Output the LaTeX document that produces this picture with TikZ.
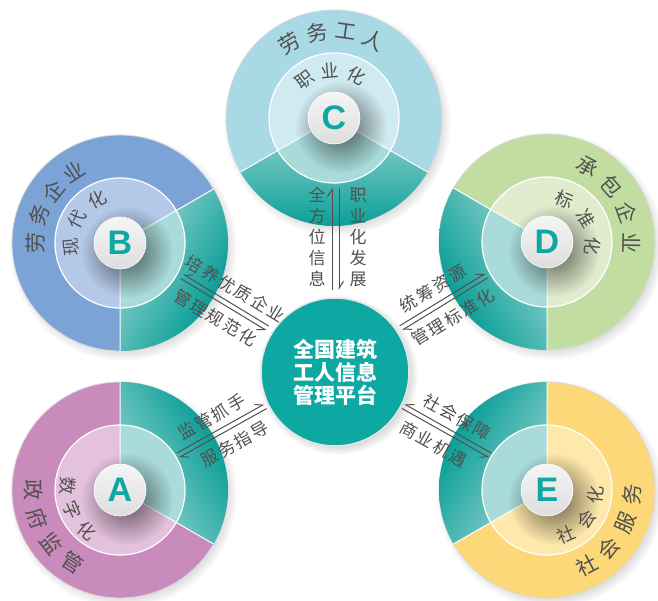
\documentclass[tikz,border=0pt]{standalone}
\usepackage{fontspec}
\setmainfont{Liberation Sans}
\newfontfamily\cjk{Noto Sans CJK SC}
\newfontfamily\cjkls[LetterSpace=12]{Noto Sans CJK SC}
\usetikzlibrary{arrows.meta,calc,fadings}
\definecolor{tealP}{HTML}{0DA8A2}
\definecolor{tealDk}{HTML}{0B9F98}
\definecolor{tealLt}{HTML}{9BD5D2}
\definecolor{tealIn}{HTML}{A8DBD9}
\definecolor{cOut}{HTML}{A9D9E5}
\definecolor{cIn}{HTML}{CFEAF0}
\definecolor{bOut}{HTML}{7CA3D5}
\definecolor{bIn}{HTML}{B4C9E8}
\definecolor{dOut}{HTML}{C2DDA2}
\definecolor{dIn}{HTML}{E0ECCD}
\definecolor{aOut}{HTML}{C98ABC}
\definecolor{aIn}{HTML}{E4C1DC}
\definecolor{eOut}{HTML}{FDD879}
\definecolor{eIn}{HTML}{FEE8AC}
\definecolor{txtGray}{HTML}{505050}
\tikzfading[name=softshade, inner color=transparent!0, outer color=transparent!100]

\begin{document}
\begin{tikzpicture}[x=1pt, y=1pt,
  ringtxt/.style={font=\cjk\fontsize{21}{21}\selectfont, text=txtGray, inner sep=0pt},
  innertxt/.style={font=\cjk\fontsize{18}{18}\selectfont, text=txtGray, inner sep=0pt},
  linktxt/.style={font=\cjkls\fontsize{17}{17}\selectfont, text=txtGray, inner sep=0pt},
  stacktxt/.style={font=\cjk\fontsize{17}{21}\selectfont, text=txtGray, inner sep=0pt, align=center},
  badge/.style={circle, minimum size=52pt, inner sep=0pt, top color=black!4, bottom color=black!13, draw=white, line width=0.6pt, text=tealP, font=\bfseries\fontsize{34}{34}\selectfont},
  platform/.style={circle, minimum size=148pt, inner sep=0pt, fill=tealP, draw=black!10, line width=1.5pt, align=center, text=white, font=\cjk\bfseries\fontsize{21}{23}\selectfont},
  link/.style={draw=txtGray, line width=1pt},
  barbL/.tip={Straight Barb[left, length=7pt, width=9pt]},
  barbR/.tip={Straight Barb[right, length=7pt, width=9pt]}]
\useasboundingbox (0,0) rectangle (658,600);

% five rings, teal sector facing the platform
\foreach \nm/\px/\py/\co/\ci/\s in {C/334/482/cOut/cIn/210, B/120/357/bOut/bIn/-90, D/547/358/dOut/dIn/150, A/120/110/aOut/aIn/-30, E/547/110/eOut/eIn/90}{
  \pgfmathsetmacro\sa{\s+150}
  \pgfmathsetmacro\se{\s+120}
  \coordinate (\nm) at (\px,\py);
  \fill[black, opacity=0.2, path fading=circle with fuzzy edge 15 percent] ($(\nm)+(3,-4)$) circle (114);
  \filldraw[fill=\co, draw=black!15, line width=0.8pt] (\nm) circle (108);
  \begin{scope}
    \clip (\nm) -- ++(\s:108) arc[start angle=\s, end angle=\se, radius=108] -- cycle;
    \shade[left color=tealDk, right color=tealDk, middle color=tealLt, shading angle=\sa] ($(\nm)+(-108,-108)$) rectangle ++(216,216);
  \end{scope}
  \fill[\ci] (\nm) circle (65);
  \fill[tealIn] (\nm) -- ++(\s:65) arc[start angle=\s, end angle=\se, radius=65] -- cycle;
  \draw[white, line width=1.2pt] (\nm) circle (65);
  \draw[white, line width=1pt] ($(\nm)+(\s:26)$) -- ++(\s:82) ($(\nm)+(\se:26)$) -- ++(\se:82);
  \fill[black, opacity=0.6, path fading=softshade] ($(\nm)+(7,-9)$) circle (46);
  \node[badge] (\nm b) at (\nm) {\nm};
}

% ring texts
\foreach \ch/\a [count=\i] in {劳/121,务/101,工/82,人/63}
  \node[ringtxt, rotate=\a-90] (Co\i) at ([shift={(\a:87)}]C) {\ch};
\foreach \ch/\a [count=\i] in {职/127,业/95,化/62}
  \node[innertxt, rotate=\a-90] (Ci\i) at ([shift={(\a:48)}]C) {\ch};
\foreach \ch/\a [count=\i] in {劳/180,务/161,企/142,业/123}
  \node[ringtxt, rotate=\a-90] (Bo\i) at ([shift={(\a:85)}]B) {\ch};
\foreach \ch/\a [count=\i] in {现/185,代/151,化/117}
  \node[innertxt, rotate=\a-90] (Bi\i) at ([shift={(\a:49)}]B) {\ch};
\foreach \ch/\a [count=\i] in {承/62,包/41,企/20,业/-1}
  \node[ringtxt, rotate=\a-90] (Do\i) at ([shift={(\a:85)}]D) {\ch};
\foreach \ch/\a [count=\i] in {标/68,准/31,化/-5}
  \node[innertxt, rotate=\a-90] (Di\i) at ([shift={(\a:46)}]D) {\ch};
\foreach \ch/\a [count=\i] in {政/180,府/199,监/218,管/237}
  \node[ringtxt, rotate=\a+90] (Ao\i) at ([shift={(\a:87)}]A) {\ch};
\foreach \ch/\a [count=\i] in {数/176,字/203,化/231}
  \node[innertxt, rotate=\a+90] (Ai\i) at ([shift={(\a:52)}]A) {\ch};
\foreach \ch/\a [count=\i] in {社/-62,会/-43,服/-23,务/-3}
  \node[ringtxt, rotate=\a+90] (Eo\i) at ([shift={(\a:85)}]E) {\ch};
\foreach \ch/\a [count=\i] in {社/-67,会/-37,化/-6}
  \node[innertxt, rotate=\a+90] (Ei\i) at ([shift={(\a:49)}]E) {\ch};

% platform
\fill[black, opacity=0.18, path fading=circle with fuzzy edge 15 percent] (338,225) circle (80);
\node[platform] (P) at (335,228) {全国建筑\\工人信息\\管理平台};

% C link
\coordinate (cl1) at (332,310); \coordinate (cl2) at (332,412);
\coordinate (cr1) at (339,412); \coordinate (cr2) at (339,310);
\draw[link, -{barbL}] (cl1) -- (cl2);
\draw[link, -{barbL}] (cr1) -- (cr2);
\node[stacktxt] (cq) at (317,363) {全\\方\\位\\信\\息};
\node[stacktxt] (cz) at (358,363) {职\\业\\化\\发\\展};

% B link
\begin{scope}[shift={($(B)!0.5!(P)$)}, rotate=-31.2, transform shape]
  \coordinate (bu1) at (-55,5.5); \coordinate (bu2) at (45,5.5);
  \coordinate (bl1) at (-55,0.5); \coordinate (bl2) at (45,0.5);
  \draw[link, {barbR}-] (bu1) -- (bu2);
  \draw[link, -{barbR}] (bl1) -- (bl2);
  \node[linktxt] (bt) at (-3,20) {培养优质企业};
  \node[linktxt] (bb) at (-5,-15) {管理规范化};
\end{scope}

% D link
\begin{scope}[shift={($(P)!0.5!(D)$)}, rotate=31.4, transform shape]
  \coordinate (du1) at (-45,5.5); \coordinate (du2) at (55,5.5);
  \coordinate (dl1) at (-45,0.5); \coordinate (dl2) at (55,0.5);
  \draw[link, -{barbL}] (du1) -- (du2);
  \draw[link, {barbL}-] (dl1) -- (dl2);
  \node[linktxt] (dt) at (3,20) {统筹资源};
  \node[linktxt] (db) at (5,-15) {管理标准化};
\end{scope}

% A link
\begin{scope}[shift={($(A)!0.5!(P)$)}, rotate=29.2, transform shape]
  \coordinate (au1) at (-55,5.5); \coordinate (au2) at (45,5.5);
  \coordinate (al1) at (-55,0.5); \coordinate (al2) at (45,0.5);
  \draw[link, -{barbL}] (au1) -- (au2);
  \draw[link, {barbL}-] (al1) -- (al2);
  \node[linktxt] (at) at (-7,20) {监管抓手};
  \node[linktxt] (ab) at (0,-15) {服务指导};
\end{scope}

% E link
\begin{scope}[shift={($(P)!0.5!(E)$)}, rotate=-29.4, transform shape]
  \coordinate (eu1) at (-45,5.5); \coordinate (eu2) at (55,5.5);
  \coordinate (el1) at (-45,0.5); \coordinate (el2) at (55,0.5);
  \draw[link, {barbR}-] (eu1) -- (eu2);
  \draw[link, -{barbR}] (el1) -- (el2);
  \node[linktxt] (et) at (7,20) {社会保障};
  \node[linktxt] (eb) at (0,-15) {商业机遇};
\end{scope}
\end{tikzpicture}
\end{document}
